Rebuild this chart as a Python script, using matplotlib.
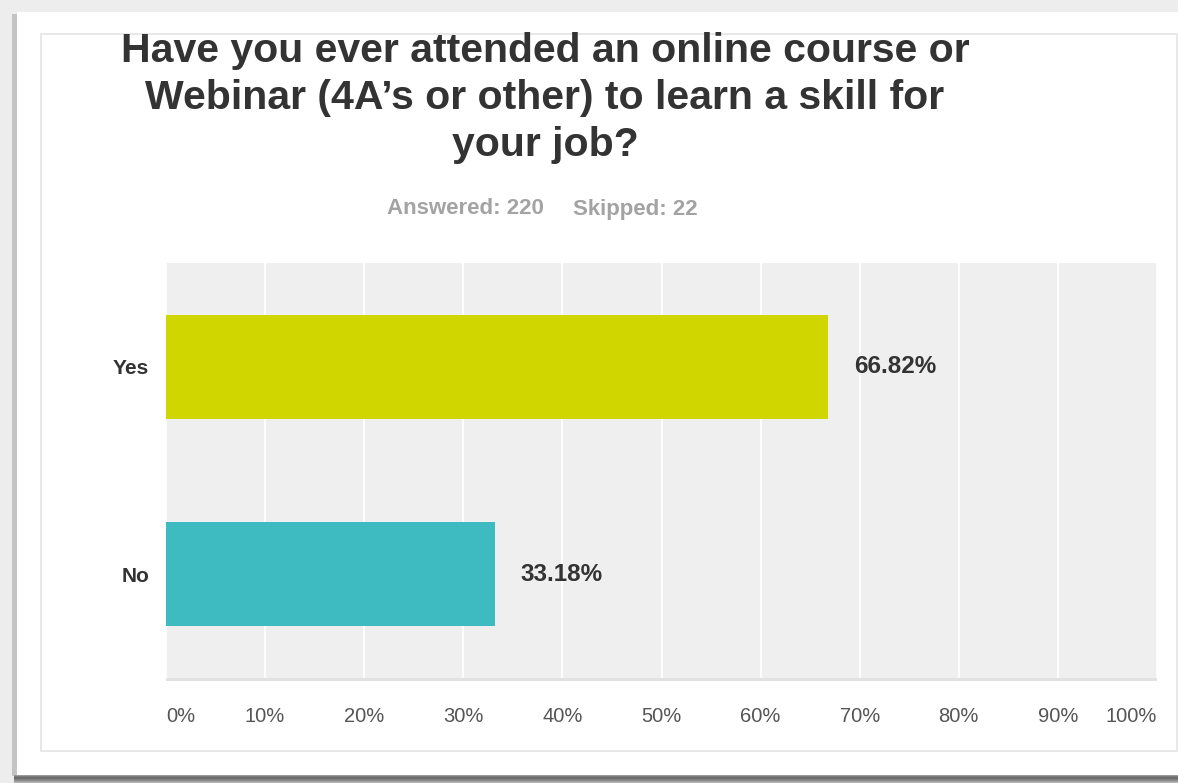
import matplotlib
matplotlib.use("Agg")
import matplotlib.pyplot as plt
from matplotlib.patches import Rectangle

categories = ["Yes", "No"]
percentages = [66.82, 33.18]
bar_colors = ["#d0d600", "#3dbbc1"]
tick_values = [0, 10, 20, 30, 40, 50, 60, 70, 80, 90, 100]
tick_labels = ["0%", "10%", "20%", "30%", "40%", "50%", "60%", "70%", "80%", "90%", "100%"]
title_text = "Have you ever attended an online course or\nWebinar (4A\u2019s or other) to learn a skill for\nyour job?"
answered_text = "Answered: 220"
skipped_text = "Skipped: 22"

W, H = 1178, 783
plt.rcParams["font.family"] = ["Liberation Sans", "DejaVu Sans"]

fig = plt.figure(figsize=(W / 100, H / 100), dpi=100)
fig.patch.set_facecolor("#ededed")


def px_rect(x0, y0, x1, y1, **kw):
    # rectangle given in pixel coordinates measured from the top-left corner
    r = Rectangle((x0 / W, 1 - y1 / H), (x1 - x0) / W, (y1 - y0) / H,
                  transform=fig.transFigure, **kw)
    fig.add_artist(r)
    return r


# card shadow and card
px_rect(12, 14, 17, 776, facecolor="#c4c4c4", edgecolor="none", zorder=0)
shadow_cols = ["#9a9a9a", "#7c7c7c", "#6a6a6a", "#707070", "#7e7e7e", "#8e8e8e", "#a0a0a0", "#b5b5b5"]
for i, c in enumerate(shadow_cols):
    px_rect(14, 775 + i, W, 776 + i, facecolor=c, edgecolor="none", zorder=0)
px_rect(17, 12, W, 775, facecolor="white", edgecolor="none", zorder=0)
px_rect(41, 34, W - 1, 751, facecolor="none", edgecolor="#e4e4e4", linewidth=1.2, zorder=1)

# plot area
ax_left, ax_right, ax_top, ax_bottom = 166, 1157, 263, 678
ax = fig.add_axes([ax_left / W, 1 - ax_bottom / H, (ax_right - ax_left) / W, (ax_bottom - ax_top) / H])
ax.set_facecolor("#efefef")
px_rect(ax_left, ax_bottom, ax_right, ax_bottom + 3, facecolor="#e2e2e2", edgecolor="none", zorder=1)

ypos = list(range(len(categories)))
ax.barh(ypos, percentages, height=0.5, color=bar_colors, zorder=3)
ax.set_xlim(0, 100)
ax.set_ylim(len(categories) - 0.5, -0.5)

ax.set_xticks(tick_values)
ax.set_xticklabels(tick_labels, fontsize=14.5, color="#555555")
xl = ax.get_xticklabels()
xl[0].set_horizontalalignment("left")
xl[-1].set_horizontalalignment("right")
ax.set_yticks(ypos)
ax.set_yticklabels(categories, fontsize=15, fontweight="bold", color="#333333")
ax.tick_params(axis="x", length=0, pad=21)
ax.tick_params(axis="y", length=0, pad=12)
ax.grid(axis="x", color="white", linewidth=1.3, zorder=1)
for s in ax.spines.values():
    s.set_visible(False)

for y, v in zip(ypos, percentages):
    ax.annotate(f"{v:.2f}%", xy=(v, y), xytext=(18.5, 0), textcoords="offset points",
                va="center", ha="left", fontsize=17.5, fontweight="bold", color="#333333", zorder=4)

fig.text(545 / W, 1 - 32 / H, title_text, ha="center", va="top", fontsize=29.5,
         fontweight="bold", color="#333333", linespacing=1.3)
fig.text(387 / W, 1 - 209 / H, answered_text, ha="left", va="center", fontsize=16,
         fontweight="bold", color="#a3a3a3")
fig.text(573 / W, 1 - 209 / H, skipped_text, ha="left", va="center", fontsize=16,
         fontweight="bold", color="#a3a3a3")

fig.savefig("out.png", dpi=100, facecolor=fig.get_facecolor())
